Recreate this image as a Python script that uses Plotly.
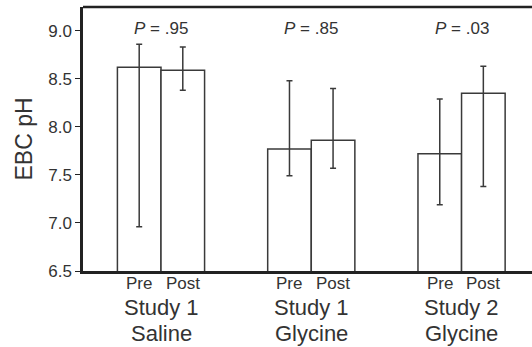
import plotly.graph_objects as go

groups = ["Study 1<br>Saline", "Study 1<br>Glycine", "Study 2<br>Glycine"]
phases = ["Pre", "Post"]
pre_mean = [8.62, 7.77, 7.72]
pre_hi = [8.86, 8.48, 8.29]
pre_lo = [6.96, 7.49, 7.19]
post_mean = [8.59, 7.86, 8.35]
post_hi = [8.83, 8.40, 8.63]
post_lo = [8.38, 7.57, 7.38]
p_labels = [".95", ".85", ".03"]
y_ticks = [6.5, 7.0, 7.5, 8.0, 8.5, 9.0]

FONT = "Arial, Liberation Sans, Helvetica, sans-serif"
LINE = "#3a3a3a"
TXT = "#333333"
xs = list(range(len(groups)))
bw = 0.29

fig = go.Figure()
for name, m, hi, lo in [("Pre", pre_mean, pre_hi, pre_lo), ("Post", post_mean, post_hi, post_lo)]:
    fig.add_trace(go.Bar(
        x=xs, y=m, name=name,
        marker=dict(color="white", line=dict(color=LINE, width=1.5)),
        error_y=dict(type="data", symmetric=False,
                     array=[h - v for h, v in zip(hi, m)],
                     arrayminus=[v - l for v, l in zip(m, lo)],
                     color=LINE, thickness=1.5, width=3),
        showlegend=False,
    ))

ann = []
for i, g in enumerate(groups):
    for j, ph in enumerate(phases):
        ann.append(dict(x=i + (j - 0.5) * bw, y=0, xref="x", yref="paper", text=ph,
                        showarrow=False, yanchor="middle", yshift=-12,
                        font=dict(size=17, color=TXT, family=FONT)))
    l1, l2 = g.split("<br>")
    ann.append(dict(x=i, y=0, xref="x", yref="paper", text=l1, showarrow=False,
                    yanchor="middle", yshift=-36, font=dict(size=22, color=TXT, family=FONT)))
    ann.append(dict(x=i, y=0, xref="x", yref="paper", text=l2, showarrow=False,
                    yanchor="middle", yshift=-62, font=dict(size=22, color=TXT, family=FONT)))
    ann.append(dict(x=i, y=9.02, xref="x", yref="y", text="<i>P</i> = " + p_labels[i],
                    showarrow=False, yanchor="middle",
                    font=dict(size=17, color=TXT, family=FONT)))

fig.update_layout(
    width=540, height=347,
    margin=dict(l=83, r=0, t=7, b=76),
    paper_bgcolor="white", plot_bgcolor="white",
    barmode="group", bargap=0.42, bargroupgap=0,
    annotations=ann,
    shapes=[dict(type="line", xref="paper", yref="paper", x0=0, x1=1, y0=1, y1=1,
                 line=dict(color="#222222", width=2.5))],
    xaxis=dict(range=[-0.519, 2.522], showticklabels=False, ticks="",
               showline=True, linecolor="#222222", linewidth=2.5,
               showgrid=False, zeroline=False),
    yaxis=dict(range=[6.5, 9.247], tickvals=y_ticks, ticktext=[f"{v:.1f}" for v in y_ticks],
               ticks="outside", ticklen=5, tickwidth=1.2, tickcolor="#222222",
               showline=True, linecolor="#222222", linewidth=2.5,
               showgrid=False, zeroline=False,
               tickfont=dict(size=17, color=TXT, family=FONT),
               title=dict(text="EBC pH", font=dict(size=23, color=TXT, family=FONT), standoff=10)),
)

fig.write_html("out.html", config={"displayModeBar": False},
               post_script="document.body.style.margin='0';document.body.style.padding='0';"
                           "document.documentElement.style.overflow='hidden';"
                           "document.body.style.overflow='hidden';")
